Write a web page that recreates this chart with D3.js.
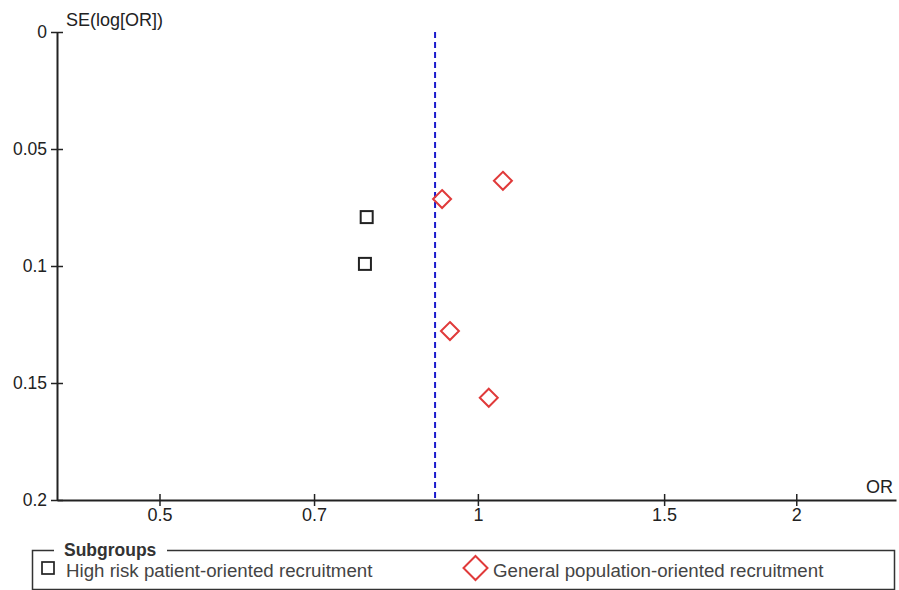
<!DOCTYPE html>
<html>
<head>
<meta charset="utf-8">
<script src="https://cdn.jsdelivr.net/npm/d3@7"></script>
<style>
  html, body { margin: 0; padding: 0; background: #fff; }
  svg { display: block; font-family: "Liberation Sans", Arial, sans-serif; }
</style>
</head>
<body>
<svg id="chart" width="899" height="590"></svg>
<script>
// Funnel plot: odds ratio (log scale) against its standard error
const xTicks = [0.5, 0.7, 1, 1.5, 2];
const yTicks = [0, 0.05, 0.1, 0.15, 0.2];
const pooledOR = 0.911;

const highRiskOR = [0.785, 0.782];
const highRiskSE = [0.0791, 0.0991];

const generalOR = [0.925, 1.056, 0.941, 1.024];
const generalSE = [0.0714, 0.0636, 0.1278, 0.1563];

const subgroupNames = ["High risk patient-oriented recruitment", "General population-oriented recruitment"];

const svg = d3.select("#chart");
const plotLeft = 57, plotRight = 896, plotTop = 32, plotBottom = 500;
const fontFamily = "Liberation Sans, Arial, sans-serif";
const fs = 18;

const x = d3.scaleLog().domain([0.40, 2.485]).range([plotLeft, plotRight]);
const y = d3.scaleLinear().domain([0, 0.2]).range([plotTop, plotBottom]);

const axisColor = "#222";
const textColor = "#222";

// y axis
const yAxis = svg.append("g").attr("transform", `translate(${plotLeft},0)`)
  .call(d3.axisLeft(y).tickValues(yTicks).tickSize(6).tickSizeOuter(0).tickFormat(d => String(d)));
yAxis.select(".domain").attr("stroke", axisColor).attr("stroke-width", 2);
yAxis.selectAll(".tick line").attr("stroke", axisColor).attr("stroke-width", 1.5).attr("x1", 6).attr("x2", -6);
yAxis.selectAll(".tick text").attr("x", -10).attr("font-size", 17.5).attr("fill", textColor)
  .attr("font-family", fontFamily);

// x axis
const xAxis = svg.append("g").attr("transform", `translate(0,${plotBottom})`)
  .call(d3.axisBottom(x).tickValues(xTicks).tickSize(6).tickSizeOuter(0).tickFormat(d => String(d)));
xAxis.select(".domain").attr("stroke", axisColor).attr("stroke-width", 2);
xAxis.selectAll(".tick line").attr("stroke", axisColor).attr("stroke-width", 1.5).attr("y1", -6).attr("y2", 6);
xAxis.selectAll(".tick text").attr("y", 8).attr("font-size", fs).attr("fill", textColor)
  .attr("font-family", fontFamily);

// axis titles
svg.append("text").attr("x", 66).attr("y", 25.5).attr("font-size", fs).attr("fill", textColor).text("SE(log[OR])");
svg.append("text").attr("x", 893).attr("y", 493).attr("text-anchor", "end").attr("font-size", fs).attr("fill", textColor).text("OR");

// pooled estimate reference line
svg.append("line")
  .attr("x1", x(pooledOR)).attr("x2", x(pooledOR))
  .attr("y1", y(0)).attr("y2", y(0.2))
  .attr("stroke", "#1a1acc").attr("stroke-width", 2).attr("stroke-dasharray", "6,4");

// high risk subgroup: squares
const sq = 12;
svg.append("g").selectAll("rect")
  .data(d3.zip(highRiskOR, highRiskSE))
  .join("rect")
  .attr("x", d => x(d[0]) - sq / 2).attr("y", d => y(d[1]) - sq / 2)
  .attr("width", sq).attr("height", sq)
  .attr("fill", "none").attr("stroke", "#222").attr("stroke-width", 2);

// general population subgroup: diamonds
const dr = 9;
const diamond = (cx, cy, r) => `M${cx},${cy - r}L${cx + r},${cy}L${cx},${cy + r}L${cx - r},${cy}Z`;
svg.append("g").selectAll("path")
  .data(d3.zip(generalOR, generalSE))
  .join("path")
  .attr("d", d => diamond(x(d[0]), y(d[1]), dr))
  .attr("fill", "none").attr("stroke", "#e03a3a").attr("stroke-width", 2);

// legend
const lg = svg.append("g");
lg.append("path")
  .attr("d", "M54,550.5H32.5V589.5H894.5V550.5H167")
  .attr("fill", "none").attr("stroke", "#333").attr("stroke-width", 1.5);
lg.append("text").attr("x", 64).attr("y", 555.5).attr("font-size", 17.5).attr("font-weight", "bold")
  .attr("fill", "#333").text("Subgroups");
lg.append("rect").attr("x", 42).attr("y", 562).attr("width", 12).attr("height", 12)
  .attr("fill", "none").attr("stroke", "#222").attr("stroke-width", 1.7);
lg.append("text").attr("x", 66).attr("y", 577).attr("font-size", 18.7).attr("fill", "#444").text(subgroupNames[0]);
lg.append("path").attr("d", diamond(475.5, 568, 12))
  .attr("fill", "none").attr("stroke", "#e03a3a").attr("stroke-width", 2);
lg.append("text").attr("x", 493).attr("y", 577).attr("font-size", 18.7).attr("fill", "#444").text(subgroupNames[1]);
</script>
</body>
</html>
